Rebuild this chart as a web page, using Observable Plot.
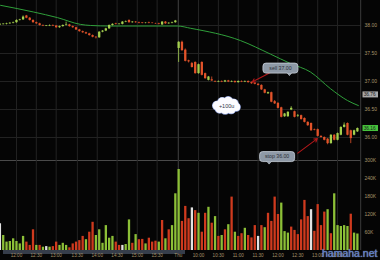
<!DOCTYPE html>
<html><head><meta charset="utf-8">
<script src="https://cdn.jsdelivr.net/npm/d3@7"></script>
<script src="https://cdn.jsdelivr.net/npm/@observablehq/plot@0.6"></script>
<style>
html,body{margin:0;padding:0;background:#000;}
#wrap{position:relative;width:380px;height:260px;overflow:hidden;background:#050505;font-family:"Liberation Sans",Arial,sans-serif;}
#vol,#price{position:absolute;left:0;}
#vol{top:160px;} #price{top:0;}
#scroll{position:absolute;left:3px;top:250px;width:182px;height:4px;background:#363d4a;}
#wm{position:absolute;left:322px;top:247px;font-size:10.5px;color:#5a83dc;opacity:0.9;text-shadow:0 0 1px #d8e6ff;white-space:nowrap;}
</style></head>
<body><div id="wrap"><div id="scroll"></div><div id="vol"></div><div id="price"></div><div id="wm">hamaha.net</div></div>
<script>
// ---- data ----
const open = [38.01,38.015,38.02,38.03,38.04,38.05,38.09,38.10,38.17,38.13,38.09,38.05,38.03,38.00,37.985,37.99,38.00,37.99,37.96,37.98,38.00,38.01,37.98,37.96,37.92,37.89,37.87,37.85,37.82,37.79,37.78,37.88,37.90,37.94,38.00,38.03,38.015,38.02,38.06,38.09,38.05,38.06,38.05,38.045,38.04,38.05,38.04,38.035,38.03,38.01,38.06,38.03,38.04,38.05,
 37.59,37.70,37.56,37.37,37.32,37.34,37.14,37.34,37.14,37.02,37.03,37.00,36.99,37.00,36.99,37.01,36.99,37.00,36.98,37.00,36.99,37.00,36.98,36.97,36.95,36.93,36.85,36.78,36.80,36.64,36.61,36.53,36.37,36.37,36.49,36.46,36.38,36.39,36.34,36.27,36.25,36.14,36.14,36.02,36.00,35.97,35.89,36.04,35.95,36.04,36.18,36.25,36.12,36.04,36.10];
const close = [38.02,38.025,38.03,38.04,38.05,38.09,38.10,38.15,38.13,38.09,38.05,38.03,38.00,37.99,37.995,38.00,37.99,37.96,37.98,38.00,38.01,37.98,37.96,37.92,37.89,37.87,37.85,37.82,37.79,37.78,37.88,37.90,37.94,38.00,38.02,38.02,38.025,38.06,38.07,38.05,38.06,38.05,38.04,38.035,38.045,38.04,38.035,38.03,38.02,38.06,38.03,38.04,38.05,38.08,
 37.70,37.55,37.36,37.35,37.25,37.14,37.30,37.11,37.05,37.08,37.01,36.99,37.00,36.99,37.01,36.99,37.00,36.98,37.00,36.99,37.00,36.98,36.96,36.95,36.93,36.85,36.79,36.80,36.63,36.60,36.52,36.36,36.42,36.45,36.52,36.36,36.39,36.32,36.27,36.21,36.12,36.13,36.02,36.00,35.95,35.89,36.04,35.95,36.07,36.18,36.22,36.04,35.98,36.12,36.16];
const high = [38.03,38.03,38.04,38.05,38.06,38.10,38.11,38.17,38.18,38.14,38.10,38.06,38.04,38.01,38.00,38.01,38.01,38.00,37.99,38.01,38.06,38.02,37.99,37.97,37.93,37.90,37.88,37.86,37.83,37.80,37.89,37.91,37.95,38.01,38.03,38.04,38.03,38.07,38.08,38.10,38.07,38.07,38.06,38.05,38.05,38.06,38.05,38.04,38.04,38.07,38.07,38.05,38.06,38.09,
 37.71,37.72,37.58,37.38,37.34,37.35,37.31,37.35,37.15,37.09,37.08,37.01,37.01,37.01,37.02,37.02,37.01,37.01,37.01,37.01,37.01,37.01,36.99,36.98,36.96,36.94,36.86,36.81,36.81,36.66,36.62,36.54,36.43,36.46,36.55,36.47,36.41,36.40,36.35,36.28,36.26,36.15,36.15,36.03,36.01,35.98,36.05,36.05,36.08,36.19,36.26,36.26,36.13,36.13,36.17];
const low = [38.00,38.01,38.01,38.02,38.03,38.04,38.08,38.09,38.12,38.08,38.04,38.02,37.99,37.98,37.98,37.98,37.98,37.95,37.95,37.97,37.99,37.97,37.95,37.91,37.88,37.86,37.84,37.81,37.78,37.76,37.77,37.87,37.89,37.93,37.99,38.01,38.01,38.01,38.05,38.04,38.04,38.04,38.03,38.03,38.03,38.03,38.03,38.02,38.01,38.00,38.02,38.02,38.03,38.04,
 37.34,37.54,37.35,37.33,37.24,37.13,37.13,37.10,37.04,37.01,37.00,36.98,36.98,36.98,36.98,36.98,36.98,36.97,36.97,36.98,36.98,36.97,36.95,36.94,36.92,36.84,36.78,36.77,36.62,36.59,36.51,36.35,36.36,36.36,36.48,36.35,36.36,36.31,36.26,36.20,36.11,36.12,36.01,35.99,35.94,35.87,35.88,35.94,35.94,36.03,36.17,36.03,35.89,36.03,36.09];
const volumeK = [89,50,28,30,39,30,22,47,28,17,69,17,17,11,13,11,13,28,17,24,17,9,22,28,33,47,36,61,94,50,69,24,83,41,47,28,17,17,20,102,24,53,36,37,22,41,28,31,28,100,39,69,83,189,
 270,97,147,106,142,133,124,61,124,144,91,113,47,50,69,86,178,61,47,56,74,50,42,83,47,83,76,124,97,178,120,158,63,58,78,67,53,102,167,113,136,64,153,83,128,136,56,189,83,80,83,80,121,58,55];
const volColor = ("w g g g g g g g r r r g r g w g r r g g g r r r r r g r r g g g g g g r r w g g r g r r g r r r g r g r g g " +
 "g r r r w r g r r g r g r g r g r g r r g r r r w r g r r r r g g g r r r r r r w r r r r g r g g g g g r g g").trim().split(" ");
const priceTicks = [38.00, 37.50, 37.00, 36.50, 36.00];
const volTicksK = [60, 120, 180, 240, 300];
const timeIdx = [5, 11, 17, 23.4, 29.4, 35.4, 41.5, 47.5, 53.9, 60, 66, 72, 78, 84, 90, 96, 102];
const timeLabels = ["12:00","12:30","13:00","13:30","14:00","14:30","15:00","15:30","Thu","10:00","10:30","11:00","11:30","12:00","12:30","13:00","13:30"];
const dayBreak = [53.9];
const maIdx = [0.2, 10.2, 17.4, 24.3, 27.4, 33.4, 53.7, 57.6, 72.7, 81.7, 87.8, 93.8, 99.9, 105, 108.3];
const maVal = [38.36, 38.24, 38.14, 38.02, 38.00, 37.99, 37.99, 37.95, 37.73, 37.49, 37.32, 37.17, 36.87, 36.66, 36.57];
const noteText = ["sell 37.00", "stop 36.00"];
const noteIdx = [84.9, 83.9];
const notePrice = [37.23, 35.65];
const arrowFromIdx = [82.3, 90.0], arrowFromPrice = [37.18, 35.72];
const arrowToIdx = [76.2, 95.9], arrowToPrice = [36.99, 35.98];
const cloudText = ["+100u"], cloudIdx = [68.5], cloudPrice = [36.56];
const tagValues = [36.76, 36.16];
const tagKind = ["gray", "green"];

// ---- build ----
const idx = d3.range(open.length);
const xDomain = [0.18, 109.24];
const UP = "#a5d04e", DOWN = "#e2532a";
const candleColor = i => close[i] >= open[i] ? UP : DOWN;
const volFill = {g: "#8cbf37", r: "#cf3a1e", w: "#e2e2e2"};
const AXIS = "#a8946a";
const GRID = "#232323";

function notes(index, scales, values, dims) {
  const g = d3.create("svg:g");
  noteText.forEach((t, k) => {
    const cx = scales.x(noteIdx[k]), cy = scales.y(notePrice[k]);
    const w = 35, h = 10;
    const tx = k === 0 ? cx + 9 : cx - 8;
    g.append("path")
      .attr("d", `M${tx - 2.5},${cy + h/2 - 0.5} L${tx},${cy + h/2 + 2.5} L${tx + 2.5},${cy + h/2 - 0.5} Z`)
      .attr("fill", "#8e99a6").attr("stroke", "#c9d1da").attr("stroke-width", 0.7);
    g.append("rect").attr("x", cx - w/2).attr("y", cy - h/2).attr("width", w).attr("height", h)
      .attr("rx", 3).attr("fill", "#8e99a6").attr("stroke", "#c9d1da").attr("stroke-width", 0.8);
    g.append("rect").attr("x", tx - 2).attr("y", cy + h/2 - 1.2).attr("width", 4).attr("height", 1.2).attr("fill", "#8e99a6");
    g.append("text").attr("x", cx).attr("y", cy).attr("dy", "0.35em").attr("text-anchor", "middle")
      .attr("font-size", 5.2).attr("fill", "#2b2f36").text(t);
  });
  cloudText.forEach((t, k) => {
    const cx = scales.x(cloudIdx[k]), cy = scales.y(cloudPrice[k]);
    const bumps = [[-9,0,4.5],[-4,-3.5,4.5],[2,-4,4.8],[7.5,-2,4.5],[10,1.5,4],[5,3.5,4.5],[-1,4,4.5],[-6.5,3.2,4.3],[0,0,6]];
    const gc = g.append("g");
    bumps.forEach(([dx,dy,r]) => gc.append("circle").attr("cx", cx+dx).attr("cy", cy+dy).attr("r", r)
      .attr("fill", "#fff").attr("stroke", "#8fa0d8").attr("stroke-width", 1.4));
    bumps.forEach(([dx,dy,r]) => gc.append("circle").attr("cx", cx+dx).attr("cy", cy+dy).attr("r", r)
      .attr("fill", "#fbfbff"));
    g.append("text").attr("x", cx + 0.5).attr("y", cy).attr("dy", "0.35em").attr("text-anchor", "middle")
      .attr("font-size", 5.5).attr("fill", "#30364a").text(t);
  });
  tagValues.forEach((v, k) => {
    const x0 = dims.width - dims.marginRight + 1.5, cy = scales.y(v);
    g.append("rect").attr("x", x0).attr("y", cy - 3).attr("width", 15.5).attr("height", 6)
      .attr("fill", tagKind[k] === "green" ? "#46c23c" : "#a9a9a9");
    g.append("text").attr("x", x0 + 1.2).attr("y", cy).attr("dy", "0.35em").attr("font-size", 4.8)
      .attr("text-anchor", "start").attr("fill", "#1c1c1c").text(v.toFixed(2));
  });
  return g.node();
}

const price = Plot.plot({
  width: 380, height: 160,
  marginLeft: 0, marginRight: 19, marginTop: 0, marginBottom: 0,
  style: {background: "transparent", overflow: "visible", fontFamily: "Liberation Sans, Arial, sans-serif"},
  x: {domain: xDomain, axis: null},
  y: {domain: [35.589, 38.446], axis: null},
  marks: [
    Plot.ruleY(priceTicks, {stroke: GRID}),
    Plot.ruleX(timeIdx, {stroke: GRID}),
    Plot.ruleX(dayBreak, {stroke: "#3a3a3a"}),
    Plot.ruleX([xDomain[1] - 0.25], {stroke: "#3b3b3b"}),
    Plot.line(maIdx, {x: (d) => d, y: (d, i) => maVal[i], stroke: "#2f9f3a", strokeWidth: 1, curve: "monotone-x"}),
    Plot.ruleX(idx, {x: i => i, y1: i => low[i], y2: i => high[i], stroke: candleColor, strokeWidth: 0.8}),
    Plot.ruleX(idx, {x: i => i, y1: i => open[i], y2: i => close[i], stroke: candleColor, strokeWidth: 2.3}),
    Plot.text(priceTicks, {y: d => d, text: d => d.toFixed(2), frameAnchor: "right", dx: 3, textAnchor: "start", fill: AXIS, fontSize: 5}),
    Plot.arrow(arrowFromIdx, {x1: d => d, y1: (d, i) => arrowFromPrice[i], x2: (d, i) => arrowToIdx[i], y2: (d, i) => arrowToPrice[i],
      stroke: "#b0181a", strokeWidth: 1.1, headLength: 5, bend: 0}),
    notes
  ]
});
document.getElementById("price").appendChild(price);

const vol = Plot.plot({
  width: 380, height: 100,
  marginLeft: 0, marginRight: 19, marginTop: 0, marginBottom: 10,
  style: {background: "transparent", overflow: "visible", fontFamily: "Liberation Sans, Arial, sans-serif"},
  x: {domain: xDomain, axis: null},
  y: {domain: [0, 300], axis: null},
  marks: [
    Plot.ruleY([300], {stroke: "#4a4a4a"}),
    Plot.ruleX(timeIdx, {stroke: GRID}),
    Plot.ruleX(dayBreak, {stroke: "#3a3a3a"}),
    Plot.ruleX([xDomain[1] - 0.25], {stroke: "#3b3b3b"}),
    Plot.ruleX(idx, {x: i => i, y1: 0, y2: i => volumeK[i], stroke: i => volFill[volColor[i]], strokeWidth: 2.3}),
    Plot.text(volTicksK, {y: d => d, text: d => d + "K", frameAnchor: "right", dx: 3, textAnchor: "start", fill: AXIS, fontSize: 5}),
    Plot.text(timeIdx, {x: d => d, text: (d, i) => timeLabels[i], frameAnchor: "bottom", dy: 6, fill: AXIS, fontSize: 4.6})
  ]
});
document.getElementById("vol").appendChild(vol);
</script></body></html>
